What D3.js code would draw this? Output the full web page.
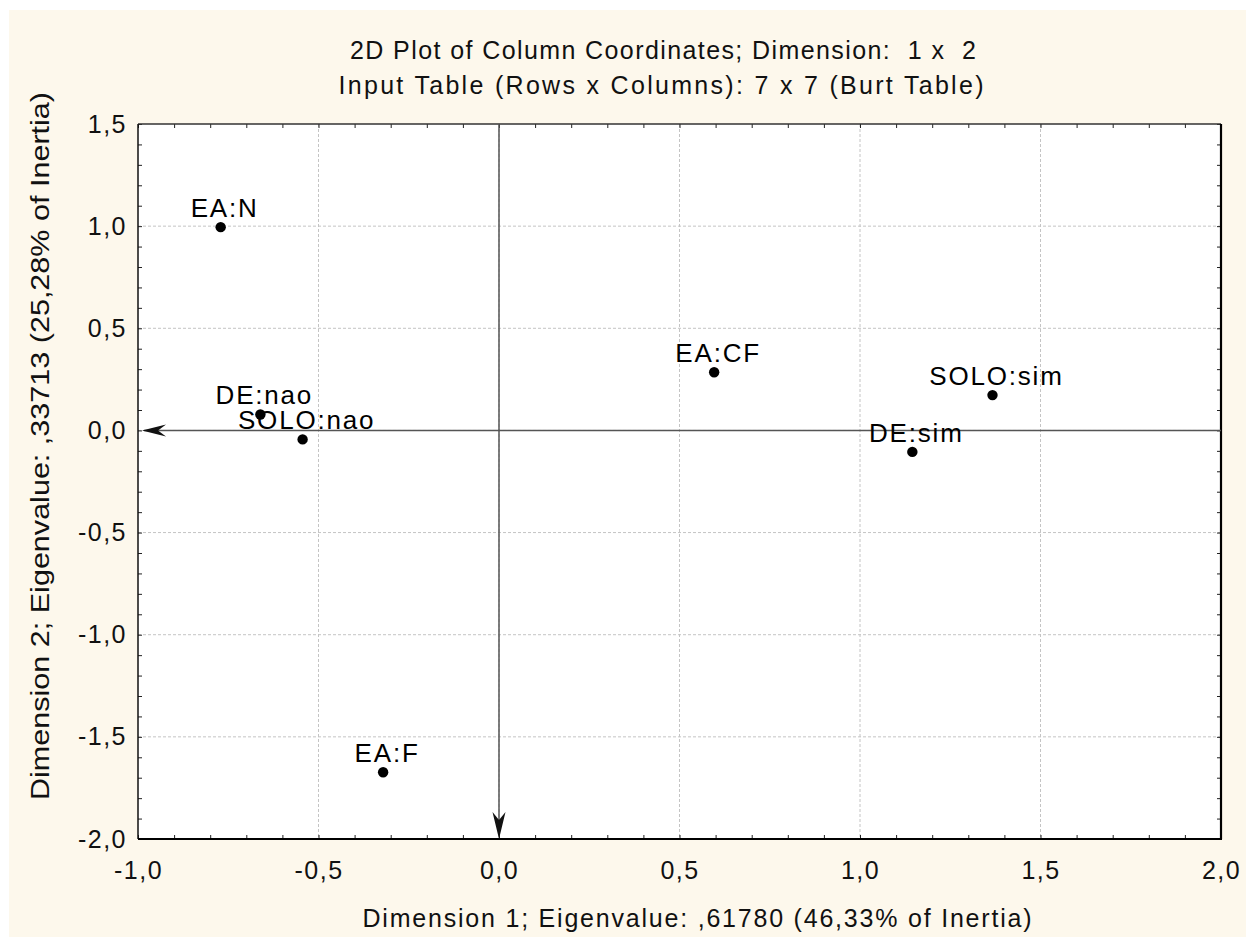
<!DOCTYPE html>
<html>
<head>
<meta charset="utf-8">
<script src="https://cdn.jsdelivr.net/npm/d3@7"></script>
<style>
  body { margin: 0; background: #fff; }
  svg { display: block; font-family: "Liberation Sans", Arial, sans-serif; }
  text { white-space: pre; }
</style>
</head>
<body>
<div id="chart"></div>
<script>
// column points of the correspondence analysis, dimension 1 x 2
const labels = ["EA:N", "EA:F", "EA:CF", "DE:nao", "DE:sim", "SOLO:nao", "SOLO:sim"];
const dim1 = [-0.771, -0.321, 0.596, -0.661, 1.145, -0.544, 1.367];
const dim2 = [0.995, -1.673, 0.285, 0.078, -0.105, -0.044, 0.173];

const xTicks = [-1.0, -0.5, 0.0, 0.5, 1.0, 1.5, 2.0];
const yTicks = [1.5, 1.0, 0.5, 0.0, -0.5, -1.0, -1.5, -2.0];

const titleLines = [
  "2D Plot of Column Coordinates; Dimension:  1 x  2",
  "Input Table (Rows x Columns): 7 x 7 (Burt Table)"
];
const xTitle = "Dimension 1; Eigenvalue: ,61780 (46,33% of Inertia)";
const yTitle = "Dimension 2; Eigenvalue: ,33713 (25,28% of Inertia)";

const W = 1246, H = 937;
const pLeft = 138, pRight = 1221, pTop = 124, pBottom = 839;

const fmt = v => d3.format(".1f")(v).replace("−", "-").replace(".", ",");

const x = d3.scaleLinear().domain([-1, 2]).range([pLeft, pRight]);
const y = d3.scaleLinear().domain([-2, 1.5]).range([pBottom, pTop]);

const svg = d3.select("#chart").append("svg")
  .attr("width", W)
  .attr("height", H);

// cream page
svg.append("rect")
  .attr("x", 9).attr("y", 10)
  .attr("width", W - 9).attr("height", H - 10)
  .attr("fill", "#fdf8ec");

svg.append("rect")
  .attr("x", pLeft).attr("y", pTop)
  .attr("width", pRight - pLeft).attr("height", pBottom - pTop)
  .attr("fill", "#fff");

// dashed grid at the labelled values
const grid = svg.append("g")
  .attr("stroke", "#c4c4c4")
  .attr("stroke-width", 1)
  .attr("stroke-dasharray", "3,2");

grid.selectAll("line.gx")
  .data(xTicks.slice(1, -1))
  .join("line")
  .attr("class", "gx")
  .attr("x1", d => x(d)).attr("x2", d => x(d))
  .attr("y1", pTop).attr("y2", pBottom);

grid.selectAll("line.gy")
  .data(yTicks.slice(1, -1))
  .join("line")
  .attr("class", "gy")
  .attr("y1", d => y(d)).attr("y2", d => y(d))
  .attr("x1", pLeft).attr("x2", pRight);

// minor ticks every 0.1, pointing into the plot on all four sides
const xMinor = d3.range(-10, 21).map(i => i / 10);
const yMinor = d3.range(-20, 16).map(i => i / 10);

function tickAxis(axis, tx, ty) {
  const g = svg.append("g")
    .attr("transform", `translate(${tx},${ty})`)
    .call(axis.tickFormat("").tickSizeOuter(0));
  g.select(".domain").remove();
  g.selectAll(".tick line").attr("stroke", "#222");
  return g;
}

tickAxis(d3.axisBottom(x).tickValues(xMinor).tickSizeInner(-4), 0, pBottom);
tickAxis(d3.axisTop(x).tickValues(xMinor).tickSizeInner(-4), 0, pTop);
tickAxis(d3.axisLeft(y).tickValues(yMinor).tickSizeInner(-4), pLeft, 0);
tickAxis(d3.axisRight(y).tickValues(yMinor).tickSizeInner(-4), pRight, 0);

// tick labels
const xAxis = svg.append("g")
  .attr("transform", `translate(0,${pBottom})`)
  .call(d3.axisBottom(x).tickValues(xTicks).tickFormat(fmt).tickSize(0).tickPadding(22));
xAxis.select(".domain").remove();
xAxis.selectAll("text")
  .attr("font-size", 25)
  .attr("letter-spacing", 1.5)
  .attr("fill", "#111");

const yAxis = svg.append("g")
  .attr("transform", `translate(${pLeft},0)`)
  .call(d3.axisLeft(y).tickValues(yTicks).tickFormat(fmt).tickSize(0).tickPadding(11));
yAxis.select(".domain").remove();
yAxis.selectAll("text")
  .attr("font-size", 25)
  .attr("letter-spacing", 1.5)
  .attr("fill", "#111");

// frame
svg.append("path")
  .attr("d", `M${pLeft},${pTop}H${pRight}`)
  .attr("stroke", "#333").attr("stroke-width", 1.5);
svg.append("path")
  .attr("d", `M${pLeft},${pTop}V${pBottom}`)
  .attr("stroke", "#111").attr("stroke-width", 1.5);
svg.append("path")
  .attr("d", `M${pLeft},${pBottom}H${pRight + 1}M${pRight},${pTop}V${pBottom}`)
  .attr("stroke", "#000").attr("stroke-width", 2.2)
  .attr("fill", "none");

// origin axes with arrows
svg.append("line")
  .attr("x1", x(0)).attr("x2", x(0))
  .attr("y1", pTop).attr("y2", pBottom - 4)
  .attr("stroke", "#555").attr("stroke-width", 1.5);
svg.append("line")
  .attr("x1", pLeft + 6).attr("x2", pRight)
  .attr("y1", y(0)).attr("y2", y(0))
  .attr("stroke", "#555").attr("stroke-width", 1.5);

svg.append("path")
  .attr("transform", `translate(${x(0)},${pBottom})`)
  .attr("d", "M0,0L-6.5,-27L0,-19L6.5,-27Z")
  .attr("fill", "#111");
svg.append("path")
  .attr("transform", `translate(${pLeft + 4},${y(0)})`)
  .attr("d", "M0,0L24,-6L16,0L24,6Z")
  .attr("fill", "#111");

// points and their labels
const pts = labels.map((l, i) => ({ label: l, d1: dim1[i], d2: dim2[i] }));

svg.append("g").selectAll("circle")
  .data(pts)
  .join("circle")
  .attr("cx", d => x(d.d1))
  .attr("cy", d => y(d.d2))
  .attr("r", 5.2)
  .attr("fill", "#000");

svg.append("g").selectAll("text")
  .data(pts)
  .join("text")
  .attr("x", d => x(d.d1) + 4)
  .attr("y", d => y(d.d2) - 10)
  .attr("text-anchor", "middle")
  .attr("font-size", 26)
  .attr("letter-spacing", 1.8)
  .attr("fill", "#000")
  .text(d => d.label);

// titles
svg.append("text")
  .attr("x", 663).attr("y", 59)
  .attr("text-anchor", "middle")
  .attr("font-size", 25)
  .attr("textLength", 626)
  .attr("fill", "#111")
  .text(titleLines[0]);
svg.append("text")
  .attr("x", 661).attr("y", 94)
  .attr("text-anchor", "middle")
  .attr("font-size", 25)
  .attr("textLength", 645)
  .attr("fill", "#111")
  .text(titleLines[1]);

svg.append("text")
  .attr("x", 697).attr("y", 927)
  .attr("text-anchor", "middle")
  .attr("font-size", 25)
  .attr("textLength", 669)
  .attr("fill", "#111")
  .text(xTitle);

svg.append("text")
  .attr("transform", "translate(49,446) rotate(-90)")
  .attr("text-anchor", "middle")
  .attr("font-size", 25)
  .attr("textLength", 708)
  .attr("lengthAdjust", "spacingAndGlyphs")
  .attr("fill", "#111")
  .text(yTitle);
</script>
</body>
</html>
